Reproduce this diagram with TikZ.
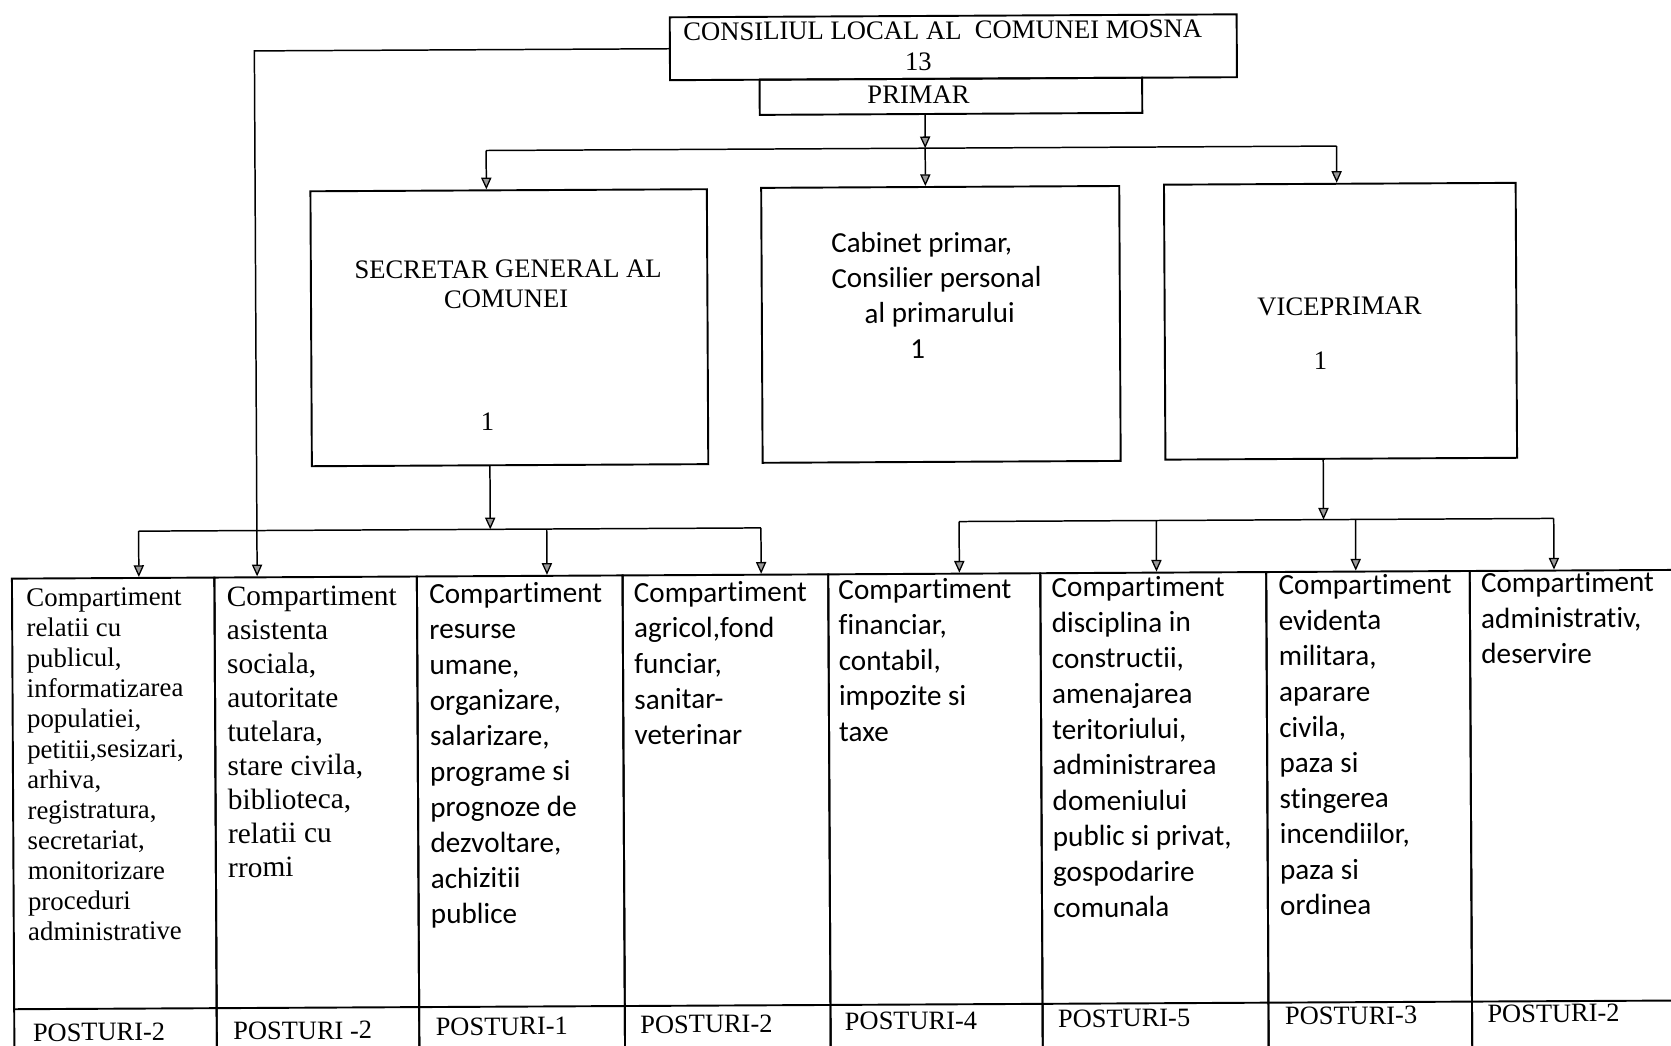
\documentclass[tikz,border=0pt]{standalone}
\usepackage{fontspec}
\setmainfont{Liberation Serif}
\newfontfamily\calib[Ligatures={NoCommon,NoContextual}]{Carlito}
\usetikzlibrary{arrows.meta}
\begin{document}
\begin{tikzpicture}[x=0.5pt,y=-0.5pt,
  box/.style={draw,line width=0.9pt,inner sep=0pt,anchor=north west},
  link/.style={line width=0.7pt},
  arr/.style={line width=0.7pt,-{Triangle[length=5.5pt,width=4.8pt,line width=0.6pt,fill=black!40]}},
  ser/.style={font=\fontsize{12.5}{15}\selectfont,inner sep=0pt},
  sansc/.style={font=\calib\fontsize{13.6}{16.5}\selectfont,inner sep=0pt},
  coltext/.style={inner sep=0pt,anchor=north west,align=left},
  sertxt/.style={coltext,font=\fontsize{12.6}{14.25}\selectfont},
  sertxtb/.style={coltext,font=\fontsize{13.8}{15.9}\selectfont},
  santxt/.style={coltext,font=\calib\fontsize{13.7}{16.7}\selectfont},
  post/.style={font=\fontsize{12.4}{14}\selectfont,inner sep=0pt,anchor=west},
]
\useasboundingbox (0,0) rectangle (1568,981.5);
\begin{scope}[rotate around={0.3:(784,490)},transform shape]
% ---- top boxes
\node[box,minimum width=266pt,minimum height=29.5pt] (cons) at (630,14.5) {};
\node[box,minimum width=179.5pt,minimum height=16.5pt] (primar) at (714,73.5) {};
\node[ser] (consT) at (887,29) {CONSILIUL LOCAL AL\ \ COMUNEI MOSNA};
\node[ser] (consN) at (864,58) {13};
\node[ser] (primarT) at (864,89) {PRIMAR};
% ---- middle boxes
\node[box,minimum width=186pt,minimum height=129pt] (sec) at (292,176) {};
\node[box,minimum width=168pt,minimum height=129pt] (cab) at (715,175) {};
\node[box,minimum width=165pt,minimum height=129pt] (vice) at (1093,174) {};
\node[ser] (secT1) at (478,251) {SECRETAR GENERAL AL};
\node[ser] (secT2) at (476,279) {COMUNEI};
\node[ser] (secN) at (458,394) {1};
\node[sansc,align=left,anchor=west] (cabT) at (781,263) {Cabinet primar,\\Consilier personal\\\hspace{15.5pt}al primarului};
\node[sansc] (cabN) at (862,328) {1};
\node[ser] (viceT) at (1258,290) {VICEPRIMAR};
\node[ser] (viceN) at (1240,341) {1};
% ---- bottom columns
\node[box,minimum width=95pt,minimum height=236pt] (col1) at (10,538) {};
\node[box,minimum width=95pt,minimum height=236pt] (col2) at (200,538) {};
\node[box,minimum width=96.5pt,minimum height=236pt] (col3) at (390,538) {};
\node[box,minimum width=96.5pt,minimum height=236pt] (col4) at (583,538) {};
\node[box,minimum width=99.5pt,minimum height=236pt] (col5) at (776,538) {};
\node[box,minimum width=106pt,minimum height=236pt] (col6) at (975,538) {};
\node[box,minimum width=95.5pt,minimum height=236pt] (col7) at (1187,538) {};
\node[box,minimum width=111pt,minimum height=236pt] (col8) at (1378,538) {};
\coordinate (sepL) at (10,943);
\draw[line width=0.9pt] (sepL) -- (sepL -| col8.east);
% column texts
\node[sertxt] (t1) at (24,548) {Compartiment\\relatii cu\\publicul,\\informatizarea\\populatiei,\\petitii,sesizari,\\arhiva,\\registratura,\\secretariat,\\monitorizare\\proceduri\\administrative};
\node[sertxtb] (t2) at (212,547) {Compartiment\\asistenta\\sociala,\\autoritate\\tutelara,\\stare civila,\\biblioteca,\\relatii cu\\rromi};
\node[santxt] (t3) at (402,545) {Compartiment\\resurse\\umane,\\organizare,\\salarizare,\\programe si\\prognoze de\\dezvoltare,\\achizitii\\publice};
\node[santxt] (t4) at (594,545) {Compartiment\\agricol,fond\\funciar,\\sanitar-\\veterinar};
\node[santxt] (t5) at (786,543) {Compartiment\\financiar,\\contabil,\\impozite si\\taxe};
\node[santxt] (t6) at (986,542) {Compartiment\\disciplina in\\constructii,\\amenajarea\\teritoriului,\\administrarea\\domeniului\\public si privat,\\gospodarire\\comunala};
\node[santxt] (t7) at (1199,541) {Compartiment\\evidenta\\militara,\\aparare\\civila,\\paza si\\stingerea\\incendiilor,\\paza si\\ordinea};
\node[santxt] (t8) at (1389,540) {Compartiment\\administrativ,\\deservire};
% posturi
\node[post] (p1) at (28,965) {POSTURI-2};
\node[post] (p2) at (216,964.5) {POSTURI -2};
\node[post] (p3) at (406,961.5) {POSTURI-1};
\node[post] (p4) at (598,960.5) {POSTURI-2};
\node[post] (p5) at (790,958.5) {POSTURI-4};
\node[post] (p6) at (990,957) {POSTURI-5};
\node[post] (p7) at (1203,955.5) {POSTURI-3};
\node[post] (p8) at (1393,954.5) {POSTURI-2};
% ---- connectors top
\coordinate (jP) at (870,139.5);
\coordinate (bL) at (458,139.5);
\coordinate (bR) at (1256,139.5);
\draw[arr] (primar.south -| jP) -- (jP);
\draw[link] (bL) -- (bR);
\draw[arr] (bL) -- (bL |- sec.north);
\draw[arr] (jP) -- (jP |- cab.north);
\draw[arr] (bR) -- (bR |- vice.north);
% ---- left branch
\coordinate (a1) at (130,495);
\coordinate (a2) at (241,495);
\coordinate (a3) at (513,495);
\coordinate (a4) at (714,495);
\coordinate (jS) at (460,495);
\draw[arr] (cons.west) -| (a2 |- col2.north);
\draw[arr] (sec.south -| jS) -- (jS);
\draw[link] (a1) -- (a4);
\draw[arr] (a1) -- (a1 |- col1.north);
\draw[arr] (a3) -- (a3 |- col3.north);
\draw[arr] (a4) -- (a4 |- col4.north);
% ---- right branch
\coordinate (b5) at (900,490);
\coordinate (b6) at (1085,490);
\coordinate (b7) at (1272,490);
\coordinate (b8) at (1458,490);
\coordinate (jV) at (1242,490);
\draw[arr] (vice.south -| jV) -- (jV);
\draw[link] (b5) -- (b8);
\draw[arr] (b5) -- (b5 |- col5.north);
\draw[arr] (b6) -- (b6 |- col6.north);
\draw[arr] (b7) -- (b7 |- col7.north);
\draw[arr] (b8) -- (b8 |- col8.north);
\end{scope}
\end{tikzpicture}
\end{document}
